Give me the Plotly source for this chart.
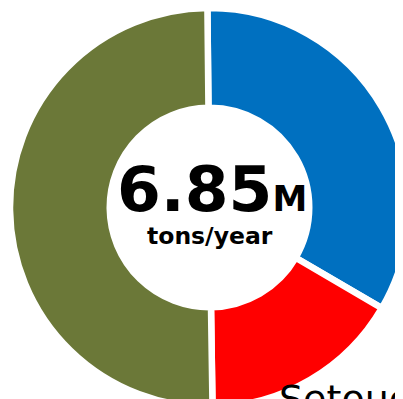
import plotly.graph_objects as go

labels = ["Blue", "Red", "Olive"]
values = [2.30, 1.12, 3.43]
colors = ["#0070C0", "#FF0000", "#6B7838"]
total_label = "6.85"
unit_label = "M"
sub_label = "tons/year"
side_label = "Setouchi"

fig = go.Figure(go.Pie(
    labels=labels, values=values, hole=0.5, sort=False, direction="clockwise",
    rotation=-0.6, marker=dict(colors=colors, line=dict(color="white", width=6.5)),
    textinfo="none", hoverinfo="none", showlegend=False,
    domain=dict(x=[0, 1], y=[0, 1]),
))

fig.add_annotation(x=0.505, y=0.4476, xref="paper", yref="paper", xanchor="center", yanchor="bottom",
                   text=f"<b>{total_label}<span style='font-size:35px'>{unit_label}</span></b>",
                   showarrow=False, font=dict(family="DejaVu Sans", size=63, color="black"))
fig.add_annotation(x=0.5, y=0.469, xref="paper", yref="paper", xanchor="center", yanchor="top",
                   text=f"<b>{sub_label}</b>", showarrow=False,
                   font=dict(family="DejaVu Sans", size=23.5, color="black"))
fig.add_annotation(x=0.667, y=0.0213, xref="paper", yref="paper", xanchor="left", yanchor="middle",
                   text=side_label, showarrow=False,
                   font=dict(family="DejaVu Sans", size=38, color="black"))

fig.update_layout(width=403, height=399, margin=dict(l=0, r=0, t=0, b=0),
                  paper_bgcolor="white", plot_bgcolor="white")
fig.write_html("out.html")
